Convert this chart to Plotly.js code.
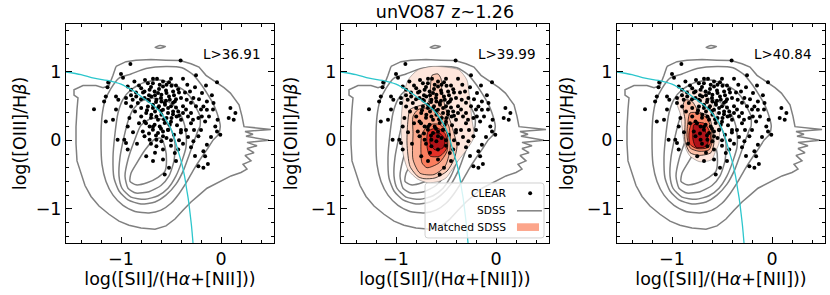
<!DOCTYPE html>
<html><head><meta charset="utf-8">
<script src="https://cdn.plot.ly/plotly-3.0.1.min.js"></script>
<style>html,body{margin:0;padding:0;background:#fff}#chart{width:830px;height:295px}</style>
</head><body><div id="chart"></div>
<script>
// ---------- data ----------
const chartTitle = 'unVO87 z~1.26';
const luminosityCuts = ['L>36.91', 'L>39.99', 'L>40.84'];
const xTickVals = [-1, 0];
const xTickText = ['\u22121', '0'];
const yTickVals = [-1, 0, 1];
const yTickText = ['\u22121', '0', '1'];
const xLabel = 'log([SII]/(H<i>\u03b1</i>+[NII]))';
const yLabel = 'log([OIII]/H<i>\u03b2</i>)';
const legendLabels = ['CLEAR', 'SDSS', 'Matched SDSS'];

// CLEAR galaxies [x, y]
const clearPoints = [
[-0.906,1.116],[-1.0,0.971],[-0.98,0.913],[-1.128,0.844],[-1.135,0.777],[-0.866,0.859],[-0.933,0.786],[-0.899,0.738],
[-0.731,0.835],[-0.681,0.835],[-0.613,0.811],[-0.58,0.786],[-0.545,0.811],[-0.495,0.796],[-0.798,0.763],[-0.765,0.713],
[-0.714,0.738],[-0.664,0.713],[-0.63,0.69],[-0.596,0.665],[-0.545,0.69],[-0.479,0.713],[-0.428,0.748],[-1.152,0.64],
[-1.169,0.568],[-1.05,0.64],[-1.027,0.592],[-0.95,0.617],[-0.95,0.544],[-0.883,0.592],[-0.848,0.64],[-0.832,0.544],
[-0.765,0.617],[-0.731,0.592],[-0.697,0.64],[-0.646,0.592],[-0.596,0.568],[-0.563,0.544],[-0.512,0.592],[-0.462,0.568],
[-1.27,0.456],[-0.899,0.495],[-0.798,0.472],[-0.731,0.495],[-0.681,0.472],[-0.63,0.472],[-0.58,0.447],[-0.529,0.472],
[-0.479,0.422],[-0.428,0.422],[-0.916,0.326],[-0.798,0.35],[-0.748,0.398],[-0.697,0.374],[-0.646,0.35],[-0.596,0.374],
[-0.545,0.326],[-0.495,0.326],[-0.444,0.35],[-1.152,0.277],[-0.933,0.204],[-0.765,0.277],[-0.714,0.204],[-0.664,0.229],
[-0.613,0.204],[-0.563,0.253],[-0.512,0.229],[-0.782,0.131],[-0.681,0.156],[-0.63,0.108],[-0.58,0.131],[-0.529,0.156],
[-0.401,0.116],[-1.034,0.01],[-0.967,0.01],[-0.765,0.058],[-0.714,0.01],[-0.646,0.01],[-0.596,-0.015],[-0.545,0.035],
[-0.95,-0.038],[-0.933,-0.135],[-0.646,-0.087],[-0.58,-0.135],[-0.428,-0.135],[-0.748,-0.233],[-0.462,-0.184],[-0.58,-0.281],
[-0.563,-0.5],
[-0.404,1.165],[-0.04,0.85],[-0.337,0.811],[-0.26,0.777],[-0.31,0.713],[-0.343,0.592],[-0.276,0.617],[-0.075,0.544],
[-0.141,0.568],[-0.176,0.495],[-0.141,0.447],[0.094,0.472],[0.144,0.398],[0.077,0.326],[0.127,0.301],[-0.192,0.35],
[-0.159,0.277],[-0.057,0.204],[-0.04,0.131],[-0.007,0.083],[-0.141,-0.063],[-0.176,-0.16],[-0.159,-0.233],[-0.176,-0.4],
[-0.131,-0.345],[-0.226,-0.379],[-0.276,-0.015],[-0.226,0.058],[-0.26,-0.23],[-0.226,0.325],[-0.034,0.3],[-0.091,0.66],
[-0.19,0.69],[-0.38,0.9],[-0.35,0.45],[-0.3,0.4],[-0.3,0.25],[-0.35,0.15],[-0.4,0.3],
[-0.7,0.78],[-0.62,0.75],[-0.55,0.73],[-0.66,0.66],[-0.6,0.62],[-0.52,0.64],[-0.47,0.66],[-0.72,0.58],[-0.68,0.52],
[-0.62,0.5],[-0.56,0.52],[-0.5,0.5],[-0.45,0.48],[-0.74,0.44],[-0.66,0.42],[-0.6,0.43],[-0.53,0.4],[-0.48,0.38],
[-0.42,0.36],[-0.7,0.33],[-0.63,0.3],[-0.57,0.31],[-0.5,0.27],[-0.44,0.22],[-0.75,0.25],[-0.68,0.2],[-0.6,0.17],
[-0.53,0.15],[-0.47,0.08],[-0.72,0.1],[-0.65,0.07],[-0.58,0.06],[-0.5,0.0],[-0.42,0.0],[-0.8,0.6],[-0.85,0.7],
[-0.78,0.7],[-0.58,0.86],[-0.5,0.9],[-0.64,0.9],[-0.45,0.8],[-0.4,0.62],[-0.38,0.5],[-0.36,0.7],
[-0.3,0.55],[-0.25,0.5],[-0.22,0.6],[-0.12,0.35],[-0.08,0.45],[-0.28,0.3],[-0.33,0.05],[-0.38,-0.05],[-0.3,-0.1],
[-0.2,0.15],[-0.1,0.05],[-0.45,0.6],[-0.42,0.7],[-0.52,0.85],[-0.68,0.9],[-0.76,0.88],[-0.82,0.8],[-0.9,0.66],
[-0.86,0.42],[-0.82,0.25],[-0.88,0.12],[-0.84,-0.05],[-0.7,-0.05],[-0.66,-0.18],[-0.5,-0.08],[-0.45,-0.3],[-0.52,-0.4],
[-0.68,-0.3],[-0.38,0.4],[-0.33,0.35],[-0.27,0.15],[-0.2,0.45],[-0.55,0.58],[-0.65,0.56],[-0.72,0.66],[-0.48,0.55],
[-0.4,0.15],[-1.05,0.45],[-1.08,0.3],[-0.25,0.95],[-0.15,0.8]
];

// SDSS density contours (outer to inner), closed loops [x, y]
const sdssContourA = [
[-1.05,1.08],[-0.95,1.15],[-0.85,1.17],[-0.7,1.18],[-0.55,1.17],[-0.41,1.165],[-0.3,1.12],[-0.22,1.07],[-0.15,0.95],
[-0.06,0.86],[0.03,0.77],[0.094,0.69],[0.14,0.6],[0.18,0.52],[0.21,0.35],[0.23,0.2],[0.5,0.16],[0.24,0.13],[0.32,0.09],
[0.25,0.06],[0.48,0.0],[0.26,-0.03],[0.36,-0.08],[0.26,-0.12],[0.33,-0.18],[0.24,-0.22],[0.3,-0.3],[0.22,-0.35],
[0.26,-0.42],[0.2,-0.47],[0.1,-0.52],[0.02,-0.58],[-0.06,-0.64],[-0.14,-0.7],[-0.22,-0.8],[-0.3,-0.9],[-0.38,-1.02],
[-0.46,-1.15],[-0.55,-1.25],[-0.66,-1.3],[-0.8,-1.28],[-0.92,-1.24],[-1.02,-1.18],[-1.12,-1.08],[-1.22,-0.96],
[-1.3,-0.82],[-1.36,-0.66],[-1.4,-0.48],[-1.44,-0.3],[-1.45,-0.05],[-1.45,0.2],[-1.44,0.45],[-1.43,0.62],[-1.47,0.66],
[-1.47,0.74],[-1.38,0.8],[-1.25,0.8],[-1.18,0.77],[-1.12,0.8],[-1.08,0.95]
];
const sdssIsland = [[-0.66,1.36],[-0.61,1.385],[-0.555,1.37],[-0.61,1.345]];
const sdssContourB = [
[-0.75,1.05],[-0.55,1.08],[-0.39,1.06],[-0.28,0.96],[-0.2,0.82],[-0.141,0.69],[-0.08,0.54],[-0.04,0.398],[-0.007,0.204],
[-0.03,0.08],[-0.075,0.01],[-0.141,-0.135],[-0.209,-0.28],[-0.27,-0.42],[-0.34,-0.6],[-0.42,-0.78],[-0.5,-0.92],
[-0.6,-1.02],[-0.72,-1.06],[-0.86,-1.04],[-0.98,-0.95],[-1.08,-0.8],[-1.15,-0.6],[-1.19,-0.35],[-1.2,0.0],[-1.19,0.35],
[-1.16,0.58],[-1.1,0.76],[-1.02,0.91],[-0.9,0.97]
];
const sdssContourC = [
[-0.9,0.74],[-0.78,0.84],[-0.62,0.88],[-0.48,0.82],[-0.38,0.74],[-0.31,0.64],[-0.25,0.48],[-0.209,0.35],[-0.21,0.2],
[-0.226,0.156],[-0.276,-0.04],[-0.32,-0.22],[-0.37,-0.42],[-0.45,-0.64],[-0.55,-0.8],[-0.66,-0.9],[-0.8,-0.93],
[-0.93,-0.87],[-1.02,-0.74],[-1.07,-0.55],[-1.08,-0.25],[-1.06,0.1],[-1.03,0.4],[-0.98,0.6]
];
const sdssContourD = [
[-0.88,0.45],[-0.8,0.57],[-0.68,0.62],[-0.55,0.58],[-0.45,0.48],[-0.38,0.3],[-0.35,0.1],[-0.35,-0.1],[-0.39,-0.3],
[-0.45,-0.52],[-0.53,-0.7],[-0.63,-0.81],[-0.76,-0.86],[-0.9,-0.83],[-0.99,-0.7],[-1.02,-0.52],[-1.01,-0.25],
[-0.97,0.05],[-0.93,0.28]
];
const sdssContourE = [
[-0.8,0.22],[-0.7,0.32],[-0.58,0.3],[-0.5,0.16],[-0.46,-0.05],[-0.47,-0.3],[-0.52,-0.52],[-0.6,-0.66],[-0.72,-0.75],
[-0.85,-0.77],[-0.93,-0.7],[-0.96,-0.52],[-0.93,-0.28],[-0.87,-0.02]
];
const sdssContourF = [
[-0.66,0.02],[-0.6,0.03],[-0.56,-0.1],[-0.545,-0.3],[-0.56,-0.45],[-0.63,-0.54],[-0.74,-0.62],[-0.85,-0.65],
[-0.91,-0.6],[-0.9,-0.48],[-0.85,-0.35],[-0.76,-0.14]
];

// Matched SDSS filled contours, middle panel (outer to inner)
const matchedMid1 = [[-0.78,1.03],[-0.64,1.08],[-0.5,1.07],[-0.37,1.03],[-0.29,0.88],[-0.27,0.69],[-0.24,0.3],[-0.22,0.05],
[-0.3,-0.15],[-0.38,-0.3],[-0.44,-0.43],[-0.5,-0.55],[-0.57,-0.6],[-0.68,-0.62],[-0.78,-0.57],[-0.88,-0.43],[-0.93,-0.19],
[-0.95,0.2],[-0.93,0.59],[-0.88,0.88]];
const matchedMid2 = [[-0.64,0.95],[-0.58,0.97],[-0.55,0.9],[-0.54,0.69],[-0.5,0.45],[-0.45,0.25],[-0.42,0.1],[-0.39,-0.09],
[-0.42,-0.28],[-0.49,-0.45],[-0.61,-0.55],[-0.72,-0.56],[-0.78,-0.53],[-0.86,-0.38],[-0.89,-0.04],[-0.88,0.3],[-0.86,0.45],
[-0.78,0.5],[-0.68,0.55],[-0.66,0.7],[-0.65,0.88]];
const matchedMid3 = [[-0.78,0.45],[-0.68,0.47],[-0.56,0.39],[-0.47,0.2],[-0.46,-0.14],[-0.51,-0.38],[-0.62,-0.5],
[-0.76,-0.48],[-0.83,-0.28],[-0.83,0.1],[-0.83,0.35]];
const matchedMid4 = [[-0.66,0.23],[-0.56,0.23],[-0.49,0.1],[-0.49,-0.16],[-0.57,-0.33],[-0.69,-0.4],[-0.74,-0.33],
[-0.75,-0.2],[-0.74,0.1]];
const matchedMid5 = [[-0.59,0.18],[-0.51,0.1],[-0.49,-0.11],[-0.56,-0.23],[-0.66,-0.23],[-0.69,-0.09],[-0.68,0.13]];
const matchedMid6 = [[-0.56,0.1],[-0.51,0.01],[-0.53,-0.11],[-0.61,-0.14],[-0.66,-0.04],[-0.64,0.1]];

// Matched SDSS filled contours, right panel (outer to inner)
const matchedRight1 = [[-0.9,0.69],[-0.8,0.74],[-0.7,0.72],[-0.62,0.6],[-0.57,0.45],[-0.53,0.25],[-0.53,-0.04],[-0.57,-0.18],
[-0.6,-0.28],[-0.67,-0.31],[-0.73,-0.31],[-0.82,-0.23],[-0.87,-0.09],[-0.9,0.2],[-0.92,0.4],[-0.95,0.54]];
const matchedRight2 = [[-0.87,0.59],[-0.8,0.57],[-0.73,0.42],[-0.63,0.35],[-0.6,0.19],[-0.58,-0.03],[-0.61,-0.18],
[-0.73,-0.22],[-0.82,-0.18],[-0.87,-0.01],[-0.87,0.3],[-0.89,0.5]];
const matchedRight3 = [[-0.82,0.4],[-0.73,0.4],[-0.65,0.32],[-0.61,0.18],[-0.6,-0.02],[-0.63,-0.14],[-0.73,-0.16],
[-0.82,-0.11],[-0.85,0.06],[-0.84,0.28]];
const matchedRight4 = [[-0.8,0.25],[-0.68,0.25],[-0.63,0.15],[-0.61,-0.02],[-0.65,-0.11],[-0.75,-0.12],[-0.82,-0.06],
[-0.83,0.11]];
const matchedRight5 = [[-0.78,0.23],[-0.7,0.2],[-0.65,0.08],[-0.64,-0.04],[-0.68,-0.1],[-0.76,-0.1],[-0.79,0.01],[-0.79,0.16]];

// Demarcation curve
const demarcation = [[-1.556,1.0],[-1.4,0.96],[-1.27,0.908],[-1.135,0.875],[-1.0,0.82],[-0.933,0.77],[-0.865,0.714],
[-0.76,0.6],[-0.663,0.495],[-0.6,0.4],[-0.529,0.252],[-0.49,0.13],[-0.461,0.01],[-0.43,-0.15],[-0.394,-0.33],
[-0.365,-0.52],[-0.343,-0.718],[-0.325,-0.88],[-0.31,-1.058],[-0.295,-1.25],[-0.283,-1.447],[-0.28,-1.5]];

// ---------- styling / layout ----------
const FONT = 'DejaVu Sans, sans-serif';
const W = 830, H = 295;
const panelLeft = [66, 341, 617], panelWidth = 208;
const panelTop = 24, panelBottom = 243;
const xRange = [-1.55, 0.53], yRange = [-1.5, 1.7];
const midFills = ['#fee6dc', '#fdcab5', '#fcab8f', '#fb7d5d', '#e43027', '#b11218'];
const rightFills = ['#fee6dc', '#fcbfa6', '#fb8a69', '#e83a2b', '#b11218'];

function xs(p) { return p.map(d => d[0]); }
function ys(p) { return p.map(d => d[1]); }
function closedX(p) { return xs(p).concat([p[0][0]]); }
function closedY(p) { return ys(p).concat([p[0][1]]); }

const traces = [];
const sdssLoops = [sdssContourA, sdssIsland, sdssContourB, sdssContourC, sdssContourD, sdssContourE, sdssContourF];
const matchedSets = [null, [matchedMid1, matchedMid2, matchedMid3, matchedMid4, matchedMid5, matchedMid6],
                     [matchedRight1, matchedRight2, matchedRight3, matchedRight4, matchedRight5]];
const fillSets = [null, midFills, rightFills];

for (let p = 0; p < 3; p++) {
  const sx = p === 0 ? 'x' : 'x' + (p + 1), sy = p === 0 ? 'y' : 'y' + (p + 1);
  sdssLoops.forEach((loop, i) => {
    traces.push({type: 'scatter', mode: 'lines', x: closedX(loop), y: closedY(loop), xaxis: sx, yaxis: sy,
      line: {color: '#808080', width: 1.5, shape: i === 0 ? 'linear' : 'spline', smoothing: 0.6},
      hoverinfo: 'skip', showlegend: false});
  });
  if (matchedSets[p]) {
    matchedSets[p].forEach((loop, i) => {
      traces.push({type: 'scatter', mode: 'lines', x: closedX(loop), y: closedY(loop), xaxis: sx, yaxis: sy,
        fill: 'toself', fillcolor: fillSets[p][i],
        line: {color: i === 0 ? 'rgba(80,80,80,0.6)' : '#000', width: 0.7, shape: 'spline', smoothing: 0.7},
        hoverinfo: 'skip', showlegend: false});
    });
  }
  traces.push({type: 'scatter', mode: 'markers', x: xs(clearPoints), y: ys(clearPoints), xaxis: sx, yaxis: sy,
    marker: {color: '#000', size: 4}, hoverinfo: 'skip', showlegend: false});
  traces.push({type: 'scatter', mode: 'lines', x: xs(demarcation), y: ys(demarcation), xaxis: sx, yaxis: sy,
    line: {color: '#2cc6cc', width: 1.3, shape: 'spline', smoothing: 0.8}, hoverinfo: 'skip', showlegend: false});
}

function xAxis(i) {
  return {domain: [panelLeft[i] / W, (panelLeft[i] + panelWidth) / W], anchor: i === 0 ? 'y' : 'y' + (i + 1),
    range: xRange, showline: true, linecolor: '#000', linewidth: 1, mirror: 'ticks', ticks: 'inside', ticklen: 6,
    tickwidth: 1, tickcolor: '#000', showgrid: false, zeroline: false, tickvals: xTickVals, ticktext: xTickText,
    tickfont: {family: FONT, size: 17.5, color: '#000'},
    minor: {ticks: 'inside', ticklen: 3, tickwidth: 1, tickcolor: '#000', dtick: 0.2, tick0: 0, showgrid: false},
    title: {text: xLabel, font: {family: FONT, size: 17.5, color: '#000'}, standoff: 4}};
}
function yAxis(i) {
  return {domain: [1 - panelBottom / H, 1 - panelTop / H], anchor: i === 0 ? 'x' : 'x' + (i + 1),
    range: yRange, showline: true, linecolor: '#000', linewidth: 1, mirror: 'ticks', ticks: 'inside', ticklen: 6,
    tickwidth: 1, tickcolor: '#000', showgrid: false, zeroline: false, tickvals: yTickVals, ticktext: yTickText,
    tickfont: {family: FONT, size: 17.5, color: '#000'},
    minor: {ticks: 'inside', ticklen: 3, tickwidth: 1, tickcolor: '#000', dtick: 0.2, tick0: 0, showgrid: false},
    title: {text: yLabel, font: {family: FONT, size: 17.5, color: '#000'}, standoff: i === 0 ? 4 : 8}};
}

const annotations = luminosityCuts.map((t, i) => ({
  text: t, xref: (i === 0 ? 'x' : 'x' + (i + 1)) + ' domain', yref: (i === 0 ? 'y' : 'y' + (i + 1)) + ' domain',
  x: 0.94, y: 0.865, xanchor: 'right', yanchor: 'middle', showarrow: false,
  font: {family: FONT, size: 13.5, color: '#000'}}));

// legend (middle panel, lower right) built from layout items
const lx = 'x2 domain', ly = 'y2 domain';
const legY = [0.227, 0.147, 0.072];
legendLabels.forEach((t, k) => annotations.push({text: t, xref: lx, yref: ly, x: 0.803, y: legY[k],
  xanchor: 'right', yanchor: 'middle', showarrow: false, font: {family: FONT, size: 10.7, color: '#000'}}));

const bx0 = 0.404, bx1 = 0.976, by0 = 0.023, by1 = 0.274, rx = 0.014, ry = 0.013;
const boxPath = `M ${bx0 + rx},${by0} L ${bx1 - rx},${by0} Q ${bx1},${by0} ${bx1},${by0 + ry} L ${bx1},${by1 - ry} ` +
  `Q ${bx1},${by1} ${bx1 - rx},${by1} L ${bx0 + rx},${by1} Q ${bx0},${by1} ${bx0},${by1 - ry} L ${bx0},${by0 + ry} ` +
  `Q ${bx0},${by0} ${bx0 + rx},${by0} Z`;
const shapes = [
  {type: 'path', xref: lx, yref: ly, path: boxPath, layer: 'above',
   fillcolor: 'rgba(255,255,255,0.8)', line: {color: '#d0d0d0', width: 1}},
  {type: 'circle', xref: lx, yref: ly, x0: 0.9, x1: 0.919, y0: 0.218, y1: 0.236, layer: 'above',
   fillcolor: '#000', line: {color: '#000', width: 0}},
  {type: 'line', xref: lx, yref: ly, x0: 0.846, x1: 0.966, y0: 0.147, y1: 0.147, layer: 'above',
   line: {color: '#808080', width: 1.5}},
  {type: 'rect', xref: lx, yref: ly, x0: 0.846, x1: 0.952, y0: 0.055, y1: 0.09, layer: 'above',
   fillcolor: '#fca58b', line: {color: '#fca58b', width: 0}}
];

const layout = {
  width: W, height: H, margin: {l: 0, r: 0, t: 0, b: 0}, paper_bgcolor: '#fff', plot_bgcolor: '#fff',
  showlegend: false,
  title: {text: chartTitle, x: 445 / W, xanchor: 'center', xref: 'paper', y: 1 - 12 / H, yanchor: 'middle',
    font: {family: FONT, size: 17.5, color: '#000'}},
  xaxis: xAxis(0), xaxis2: xAxis(1), xaxis3: xAxis(2),
  yaxis: yAxis(0), yaxis2: yAxis(1), yaxis3: yAxis(2),
  annotations: annotations, shapes: shapes
};

Plotly.newPlot('chart', traces, layout, {staticPlot: true, displayModeBar: false});
</script>
</body></html>
